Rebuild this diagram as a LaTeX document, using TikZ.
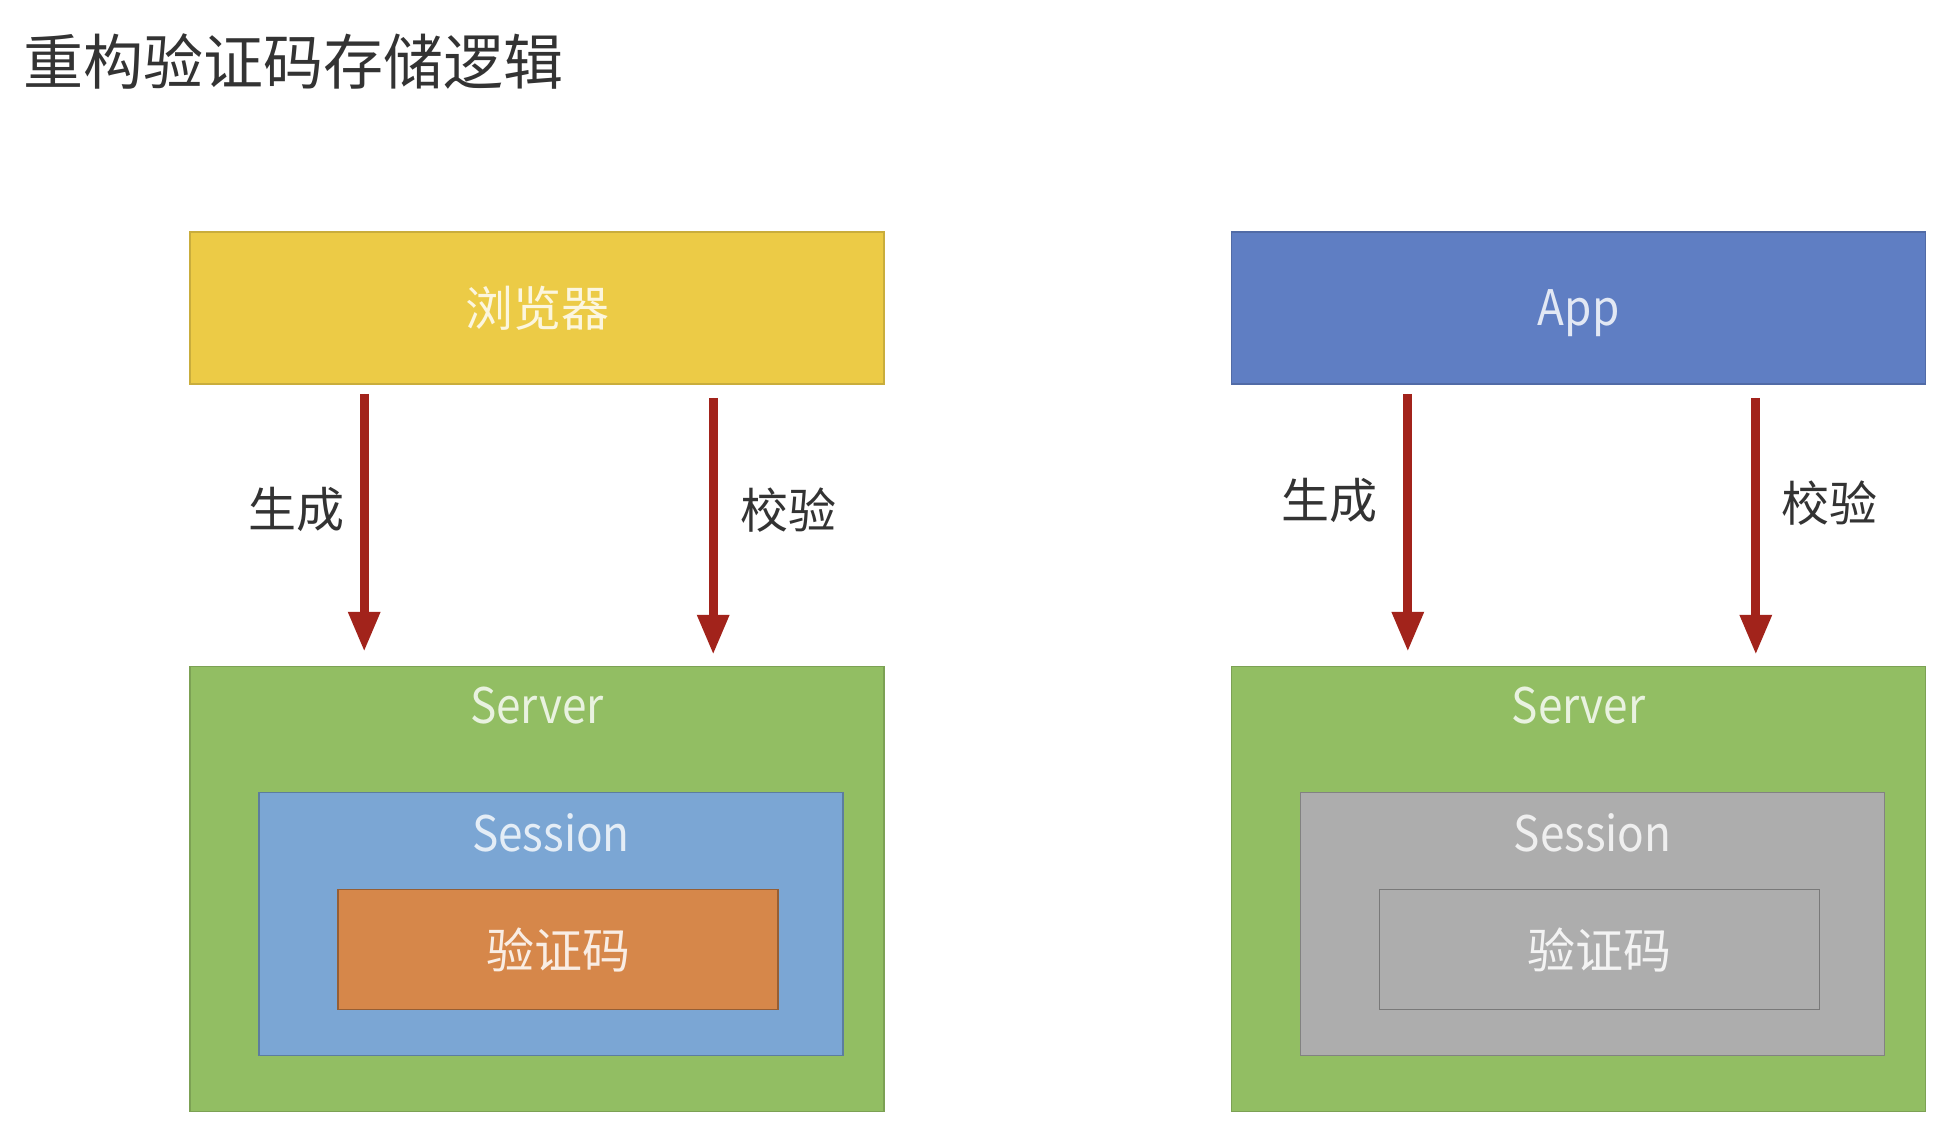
\documentclass[tikz,border=0pt]{standalone}
\usepackage{fontspec}
\setmainfont{Noto Sans CJK SC}
\newfontfamily\latinlbl[FakeStretch=0.9]{Noto Sans CJK SC}
\usepackage{xcolor}
\usetikzlibrary{arrows.meta,positioning}
\definecolor{brwYellow}{HTML}{ECCB46}
\definecolor{appBlue}{HTML}{5F7EC3}
\definecolor{srvGreen}{HTML}{92BE63}
\definecolor{sesBlue}{HTML}{7BA6D4}
\definecolor{codeOrange}{HTML}{D6874A}
\definecolor{offGray}{HTML}{ADADAD}
\definecolor{arrRed}{HTML}{A2231B}

\begin{document}
\begin{tikzpicture}[
  node distance=140.5pt and 173pt,
  client/.style={rectangle, draw=#1!85!black, fill=#1, line width=0.8pt, inner sep=0pt,
              minimum width=347pt, minimum height=76pt, font=\fontsize{24}{28}\selectfont, text=white!82!#1},
  server/.style={rectangle, draw=srvGreen!85!black, fill=srvGreen, line width=0.8pt,
              minimum width=347pt, minimum height=222.5pt},
  sess/.style={rectangle, draw=#1!75!black, fill=#1, line width=0.8pt,
              minimum width=292pt, minimum height=131.5pt},
  code/.style={rectangle, draw=#1!70!black, fill=#1, line width=0.8pt, inner sep=0pt,
              minimum width=220pt, minimum height=60pt, font=\fontsize{24}{28}\selectfont, text=white!85!#1},
  inlbl/.style={inner sep=0pt, font=\latinlbl\fontsize{24.5}{28}\selectfont, text=white!80!#1},
  verb/.style={inner sep=0pt, font=\fontsize{24}{28}\selectfont, text=black!80},
  arr/.style={-{Triangle[width=15pt,length=20pt]}, draw=arrRed, fill=arrRed, line width=4.5pt}
]
\path[use as bounding box, fill=white] (0,0) rectangle (978pt,-568pt);
\node[inner sep=0pt, anchor=west, font=\fontsize{30}{36}\selectfont, text=black!80] (title) at (11.5pt,-31pt) {重构验证码存储逻辑};
% browser side
\node[client=brwYellow] (brw) at (268.5pt,-154pt) {浏览器};
\node[server, below=of brw] (srvL) {};
\node[sess=sesBlue, below=63pt of srvL.north, xshift=7pt] (sesL) {};
\node[code=codeOrange, below=48.5pt of sesL.north, xshift=3.5pt] (codeL) {验证码};
\node[inlbl=srvGreen] (srvLt) at ([yshift=-20pt]srvL.north) {Server};
\node[inlbl=sesBlue] (sesLt) at ([yshift=-20.5pt]sesL.north) {Session};
% app side
\node[client=appBlue, right=of brw, font=\latinlbl\fontsize{24.5}{28}\selectfont, text depth=0pt] (app) {App};
\node[server, below=of app] (srvR) {};
\node[sess=offGray, below=63pt of srvR.north, xshift=7pt] (sesR) {};
\node[code=offGray, below=48.5pt of sesR.north, xshift=3.5pt] (codeR) {验证码};
\node[inlbl=srvGreen] (srvRt) at ([yshift=-20pt]srvR.north) {Server};
\node[inlbl=offGray] (sesRt) at ([yshift=-20.5pt]sesR.north) {Session};
% arrows
\draw[arr, shorten <=4.5pt, shorten >=7pt] ([xshift=87.5pt]brw.south west) -- ([xshift=87.5pt]srvL.north west)
  node[verb, pos=0.445, left=7.5pt] (genL) {生成};
\draw[arr, shorten <=6.5pt, shorten >=5.5pt] ([xshift=262pt]brw.south west) -- ([xshift=262pt]srvL.north west)
  node[verb, pos=0.445, right=11.5pt] (chkL) {校验};
\draw[arr, shorten <=4.5pt, shorten >=7pt] ([xshift=88.5pt]app.south west) -- ([xshift=88.5pt]srvR.north west)
  node[verb, pos=0.41, left=13pt] (genR) {生成};
\draw[arr, shorten <=6.5pt, shorten >=5.5pt] ([xshift=262.5pt]app.south west) -- ([xshift=262.5pt]srvR.north west)
  node[verb, pos=0.42, right=10.5pt] (chkR) {校验};
\end{tikzpicture}
\end{document}
